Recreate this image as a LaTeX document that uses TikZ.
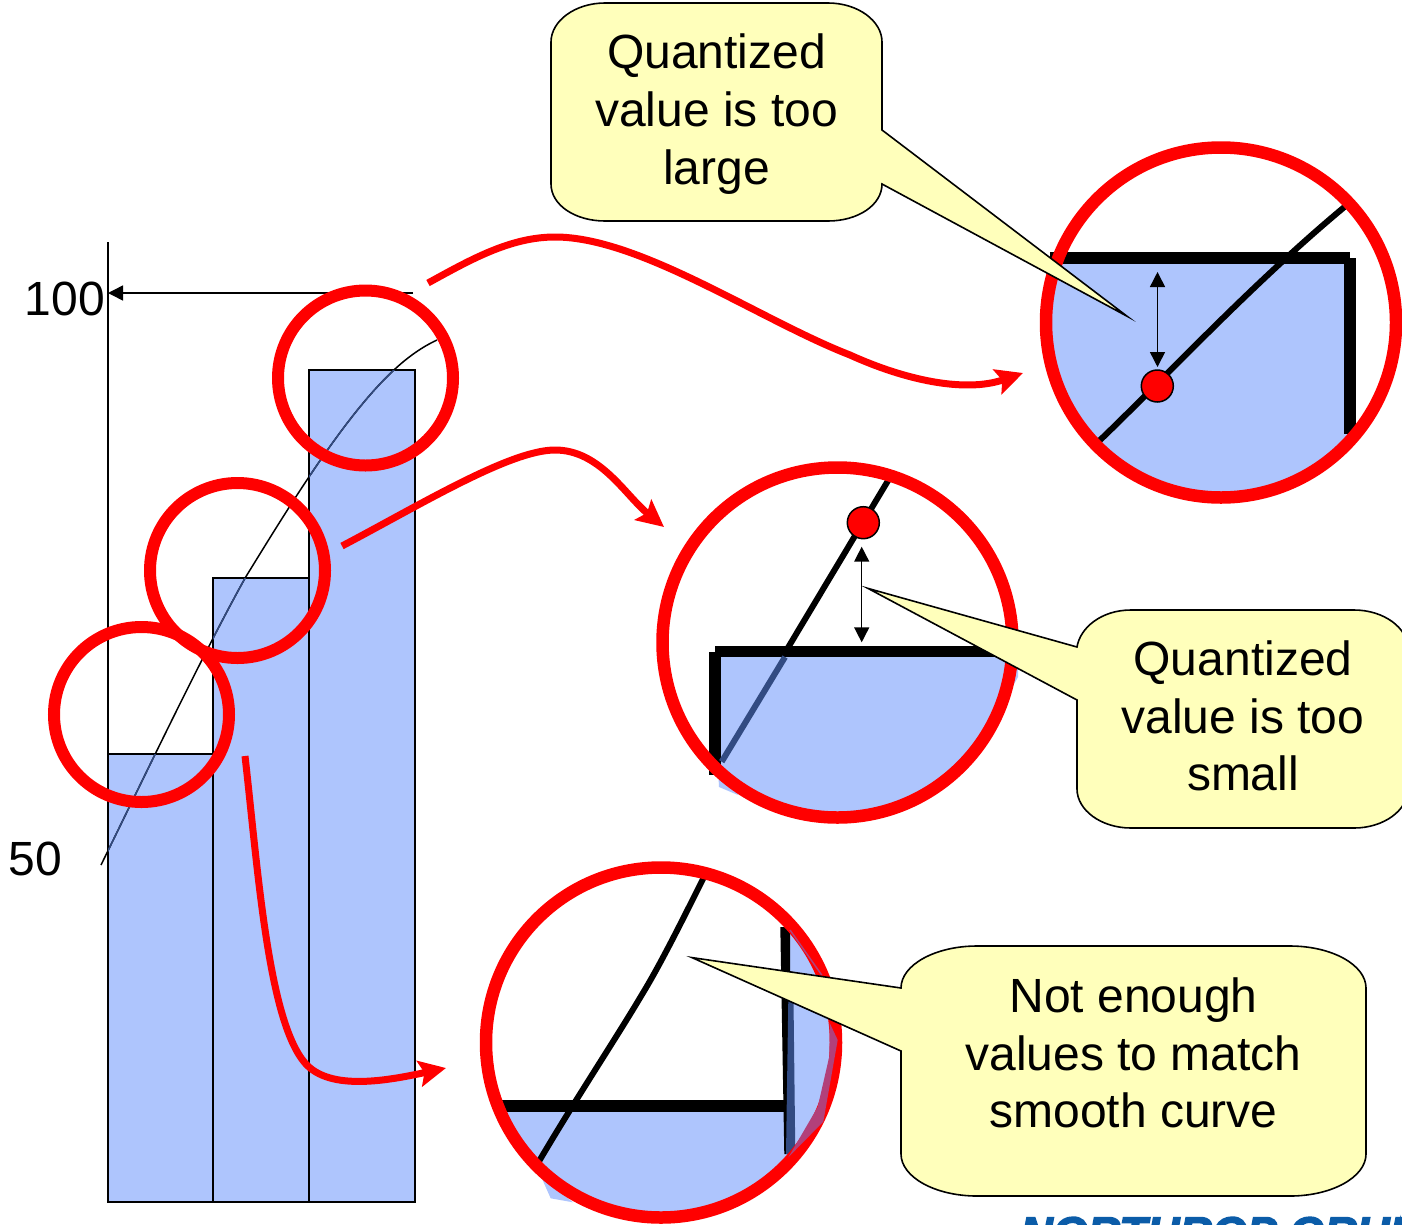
\documentclass[tikz,border=0pt]{standalone}
\usepackage{fontspec}
\setmainfont{Liberation Sans}
\usetikzlibrary{arrows.meta}
\definecolor{barblue}{RGB}{174,197,253}
\definecolor{navyline}{RGB}{50,75,130}
\definecolor{callfill}{RGB}{255,255,187}
\definecolor{ringred}{RGB}{255,0,0}
\definecolor{mixred}{RGB}{178,64,122}
\definecolor{logoblue}{RGB}{11,92,168}
\tikzset{
  x=1pt,y=-1pt,
  bar/.style={fill=barblue,draw=black,line width=1.5pt},
  ring/.style={draw=ringred,line width=12pt},
  bigring/.style={draw=ringred,line width=12.5pt},
  callout/.style={fill=callfill,draw=black,line width=1.6pt,line join=miter,miter limit=20},
  calltext/.style={font=\fontsize{48}{57.8}\selectfont,align=center,text=black,inner sep=0pt},
  labeltext/.style={font=\fontsize{48}{57.8}\selectfont,text=black,inner sep=0pt,anchor=base},
  thick bar/.style={fill=black,draw=none},
  diag/.style={draw=black,line width=6pt},
  redarrow/.style={draw=ringred,line width=7pt,-{Stealth[length=27pt,width=26pt,inset=5pt,fill=ringred]}},
  gaparrow/.style={draw=black,line width=1.5pt,{Triangle[length=15pt,width=15pt]}-{Triangle[length=15pt,width=15pt]}},
  dot/.style={fill=ringred,draw=black,line width=1.5pt}
}
\begin{document}
\begin{tikzpicture}
\path[use as bounding box,clip] (0,0) rectangle (1402,1224);
\fill[white] (0,0) rectangle (1402,1224);

% --- bar chart
\draw[bar] (108,754) rectangle (213,1202);
\draw[bar] (213,578) rectangle (309,1202);
\draw[bar] (309,370) rectangle (415,1202);
\draw[black,line width=1.5pt] (108,242) -- (108,1202);
\def\curvepath{(101,865) .. controls (150,765) and (205,650) .. (245.7,577) .. controls (290,505) and (345,415) .. (395,369) .. controls (408,357) and (422,347) .. (437,340)}
\draw[black,line width=1.5pt] \curvepath;
\begin{scope}
  \clip (108,754) rectangle (213,1202) (213,578) rectangle (309,1202) (309,370) rectangle (415,1202);
  \draw[navyline,line width=1.5pt] \curvepath;
\end{scope}
\coordinate (levelend) at (413,293);
\coordinate (levelaxis) at (108,293);
\draw[black,line width=1.5pt,-{Triangle[length=15pt,width=15pt]}] (levelend) -- (levelaxis);
\node[labeltext,anchor=base east] (hundred) at (105,315.5) {100};
\node[labeltext,anchor=base west] (fifty) at (8.5,875.5) {50};

% --- small rings
\draw[ring] (365.5,378) circle (87.5);
\draw[ring] (237.5,570.5) circle (87.5);
\draw[ring] (141.5,714.5) circle (87.5);

% --- magnifier 1
\begin{scope}
  \clip (1221,322.5) circle (170);
  \fill[barblue] (1040,258) rectangle (1350,510);
\end{scope}
\fill[thick bar] (1050,252.3) rectangle (1349.7,264.3);
\fill[thick bar] (1343.7,258) rectangle (1355.7,434);
\draw[diag] (1098,442) .. controls (1160,383) and (1250,285) .. (1348,204);
\draw[bigring] (1221,322.5) circle (175);
\coordinate (gapAtop) at (1157.5,272);
\coordinate (gapAbot) at (1157.5,367);
\draw[gaparrow] (gapAtop) -- (gapAbot);
\draw[dot] (1157.3,386) circle (16);

% --- magnifier 2
\begin{scope}
  \clip (837.5,642.5) circle (172);
  \fill[barblue] (715,652) rectangle (1030,830);
\end{scope}
\fill[barblue] (718,768) -- (719,787) -- (738,795) -- cycle;
\fill[barblue] (1005,660) -- (1018,664) -- (1018,677) -- (1005,700) -- cycle;
\fill[thick bar] (715,645.7) rectangle (1005,657);
\fill[thick bar] (709,651.7) rectangle (721,775);
\draw[diag] (889,479) -- (786,651);
\draw[diag,navyline,line width=6pt] (785,657) -- (721.7,761.7);
\draw[bigring] (837.5,642.5) circle (175);
\coordinate (gapBtop) at (861.7,546.7);
\coordinate (gapBbot) at (861.7,642.3);
\draw[gaparrow] (gapBtop) -- (gapBbot);
\draw[dot] (863.3,522.7) circle (16);

% --- magnifier 3
\begin{scope}
  \clip (661,1042.5) circle (170);
  \fill[barblue] (490,1106) rectangle (790,1220);
  \fill[barblue] (785,920) rectangle (850,1220);
\end{scope}
\fill[barblue] (541.7,1178) -- (550.7,1198.3) -- (573,1202.3) -- cycle;
\fill[thick bar] (495,1100.3) rectangle (785,1112.3);
\fill[thick bar] (780.3,927) -- (790,927) -- (790,1154) -- (784.3,1154) -- cycle;
\fill[navyline] (788.3,1000) -- (793.5,1000) -- (795.3,1154) -- (786,1154) -- cycle;
\draw[diag] (705,875) .. controls (680,925) and (660,965) .. (641.7,995) .. controls (615,1040) and (575,1100) .. (538,1163);
\draw[bigring] (661,1042.5) circle (175);
\fill[mixred] (837.7,1040) -- (823.3,1121.7) -- (788.3,1157.3) -- (795,1146) -- (817.7,1107) -- (829.4,1056) -- (829.7,1023) -- cycle;
\draw[mixred,line width=1.5pt] (790,930) -- (821.7,975);

% --- red connectors
\coordinate (srcA) at (428,283);
\coordinate (midA) at (555,237);
\coordinate (midA2) at (850,355);
\coordinate (dstA) at (1023,373);
\draw[redarrow] (srcA) .. controls (470,260) and (510,237) .. (midA) .. controls (640,237) and (760,320) .. (midA2) .. controls (905,380) and (965,393) .. (dstA);
\coordinate (srcB) at (342,546);
\coordinate (midB) at (555,450);
\coordinate (dstB) at (664,527);
\draw[redarrow] (srcB) .. controls (420,505) and (510,450) .. (midB) .. controls (600,450) and (625,495) .. (dstB);
\coordinate (srcC) at (245,756);
\coordinate (midC) at (305,1063);
\coordinate (dstC) at (446,1068);
\draw[redarrow] (srcC) .. controls (258,870) and (268,1020) .. (midC) .. controls (330,1092) and (390,1080) .. (dstC);

% --- callouts
\draw[callout] (605,3) -- (828,3) .. controls (858,3) and (882,21) .. (882,42) -- (882,130) -- (1127,316.2) -- (882,184) .. controls (882,205) and (858,221) .. (828,221) -- (605,221) .. controls (575,221) and (551,205) .. (551,184) -- (551,42) .. controls (551,21) and (575,3) .. (605,3) -- cycle;
\node[calltext] (textA) at (716.5,114) {Quantized\\value is too\\large};

\draw[callout] (1131,610) -- (1354,610) .. controls (1384,610) and (1408,628) .. (1408,649) -- (1408,789) .. controls (1408,810) and (1384,828) .. (1354,828) -- (1131,828) .. controls (1101,828) and (1077,810) .. (1077,789) -- (1077,700) -- (868,588.4) -- (1077,647) .. controls (1080,628) and (1101,610) .. (1131,610) -- cycle;
\node[calltext] (textB) at (1243,716) {Quantized\\value is too\\small};

\draw[callout] (977,946) -- (1290,946) .. controls (1332,946) and (1366,965) .. (1366,988) -- (1366,1154) .. controls (1366,1177) and (1332,1196) .. (1290,1196) -- (977,1196) .. controls (935,1196) and (901,1177) .. (901,1154) -- (901,1051) -- (692,957.6) -- (901,988) .. controls (901,965) and (935,946) .. (977,946) -- cycle;
\node[calltext] (textC) at (1133.5,1053) {Not enough\\values to match\\smooth curve};

% --- cut-off logo
\node[font=\fontsize{45}{50}\selectfont\bfseries\itshape,text=logoblue,draw=none,inner sep=0pt,anchor=base west] (logo) at (1020,1248.5) {\special{pdf:literal 2 Tr 1.6 w}NORTHROP GRUMMAN\special{pdf:literal 0 Tr}};
\end{tikzpicture}
\end{document}
